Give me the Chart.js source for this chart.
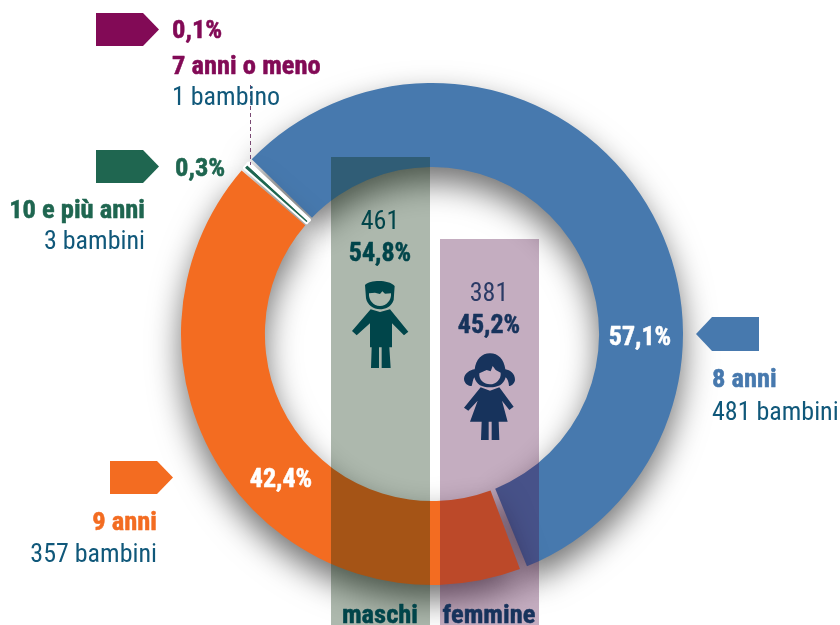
<!DOCTYPE html>
<html lang="it">
<head>
<meta charset="utf-8">
<script src="https://cdn.jsdelivr.net/npm/chart.js@4"></script>
<style>html,body{margin:0;padding:0;background:#fff}canvas{display:block}</style>
</head>
<body>
<canvas id="c" width="840" height="625"></canvas>
<script>
const ages = ['8 anni', '9 anni', '10 e più anni', '7 anni o meno'];
const counts = [481, 357, 3, 1];
const countLabels = ['481 bambini', '357 bambini', '3 bambini', '1 bambino'];
const shares = ['57,1%', '42,4%', '0,3%', '0,1%'];
const colors = ['#4779ae', '#f36c21', '#1f6650', '#820a56'];
const sexes = ['maschi', 'femmine'];
const sexCounts = ['461', '381'];
const sexShares = ['54,8%', '45,2%'];

const NARROW = '"Liberation Sans Narrow","Roboto Condensed",Roboto,sans-serif';
const INK = '#10587a', BOY = '#00454a', GIRL = '#17335c';

function txt(ctx, s, x, y, size, bold, color, align) {
  ctx.font = (bold ? 'bold ' : '') + size + 'px ' + NARROW;
  ctx.fillStyle = color;
  ctx.textAlign = align || 'left';
  ctx.textBaseline = 'alphabetic';
  ctx.fillText(s, x, y);
  if (bold) {
    ctx.strokeStyle = color;
    ctx.lineWidth = 0.5;
    ctx.lineJoin = 'round';
    ctx.strokeText(s, x, y);
  }
}
function poly(ctx, pts, color) {
  ctx.beginPath();
  pts.forEach((p, i) => i ? ctx.lineTo(p[0], p[1]) : ctx.moveTo(p[0], p[1]));
  ctx.closePath();
  ctx.fillStyle = color;
  ctx.fill();
}
const boyHead = 'M105 405C120 390 175 388 194 408L191 450C185 470 165 478 150 478C130 478 112 465 108 445ZM117 430L135 428L150 432L157 424L165 431L183 430C185 450 170 468 150 468C130 468 115 450 117 430Z';
const boyBody = 'M122 478L150 486L180 478L235 545L222 556L186 520L186 592L178 592L182 654L155 654L155 592L147 592L147 654L123 654L125 592L120 592L120 520L80 556L66 543Z';
const girlHead = 'M480 610C505 610 522 628 526 658C540 660 556 672 555 690C554 700 545 708 537 708C536 695 533 688 527 682C520 705 505 712 480 712C455 712 440 705 433 682C428 690 428 700 425 708C412 708 402 698 402 686C403 670 420 660 434 658C438 628 455 610 480 610ZM448 670L470 660L482 664L488 648L497 660L512 668C514 688 498 703 480 703C462 703 446 690 448 670Z';
const girlBody = 'M452 712L480 722L508 712L551 770L538 780L516 752L533 815L506 815L508 870L485 870L485 815L476 815L476 870L453 870L455 815L420 815L443 752L415 782L402 773Z';

const overlay = {
  id: 'overlay',
  beforeDatasetsDraw(chart) {
    const c = chart.ctx;
    // le due fette sottili non proiettano ombra
    chart.getDatasetMeta(0).data.slice(2).forEach(arc => {
      if (arc._noShadow) return;
      arc._noShadow = true;
      const d = arc.draw;
      arc.draw = function (ctx, area) {
        ctx.save();
        ctx.shadowColor = 'transparent';
        d.call(this, ctx, area);
        ctx.restore();
      };
    });
    c.save();
    c.shadowColor = 'rgba(0,0,0,0.56)';
    c.shadowBlur = 32;
    c.shadowOffsetX = 0;
    c.shadowOffsetY = 15;
  },
  afterDatasetsDraw(chart) {
    const c = chart.ctx;
    c.restore();
    c.save();
    // pannelli maschi / femmine
    c.fillStyle = 'rgba(0,33,0,0.32)';
    c.fillRect(331, 157, 99, 468);
    c.fillStyle = 'rgba(72,0,60,0.32)';
    c.fillRect(440, 239, 99, 386);
    // frecce
    poly(c, [[96,13],[143,13],[159,29.5],[143,46],[96,46]], colors[3]);
    poly(c, [[96,150],[143,150],[159,166.5],[143,183],[96,183]], colors[2]);
    poly(c, [[759,317],[712,317],[696,334],[712,351],[759,351]], colors[0]);
    poly(c, [[110,461],[157,461],[173,477.5],[157,494],[110,494]], colors[1]);
    // linea di richiamo
    c.beginPath();
    c.setLineDash([4, 3]);
    c.moveTo(250.5, 85); c.lineTo(250.5, 165);
    c.strokeStyle = '#7a4a74'; c.lineWidth = 1; c.stroke();
    c.setLineDash([]);
    // testi
    txt(c, shares[3], 172, 38, 26.5, true, colors[3]);
    txt(c, ages[3], 172, 73.5, 26.5, true, colors[3]);
    txt(c, countLabels[3], 172, 105, 26, false, INK);
    txt(c, shares[2], 175, 176, 26.5, true, colors[2]);
    txt(c, ages[2], 145, 218, 26.5, true, colors[2], 'right');
    txt(c, countLabels[2], 145, 249, 26, false, INK, 'right');
    txt(c, shares[0], 640, 345, 26, true, '#fff', 'center');
    txt(c, ages[0], 712, 387, 26.5, true, colors[0]);
    txt(c, countLabels[0], 712, 420, 26, false, INK);
    txt(c, shares[1], 281, 487, 26, true, '#fff', 'center');
    txt(c, ages[1], 157, 530, 26.5, true, colors[1], 'right');
    txt(c, countLabels[1], 157, 562, 26, false, INK, 'right');
    txt(c, sexCounts[0], 380, 229, 26, false, BOY, 'center');
    txt(c, sexShares[0], 380, 261, 26, true, BOY, 'center');
    txt(c, sexCounts[1], 489, 301, 26, false, '#2b3b66', 'center');
    txt(c, sexShares[1], 489, 333, 26, true, GIRL, 'center');
    txt(c, sexes[0], 380, 623, 26.5, true, BOY, 'center');
    txt(c, sexes[1], 489, 623, 26.5, true, GIRL, 'center');
    // pittogrammi
    c.translate(330, 150); c.scale(1/3, 1/3);
    c.fillStyle = BOY;
    c.fill(new Path2D(boyHead), 'evenodd');
    c.fill(new Path2D(boyBody));
    c.fillStyle = GIRL;
    c.fill(new Path2D(girlHead), 'evenodd');
    c.fill(new Path2D(girlBody));
    c.restore();
  }
};

new Chart(document.getElementById('c'), {
  type: 'doughnut',
  data: {
    labels: ages,
    datasets: [{
      data: counts,
      backgroundColor: colors,
      borderColor: '#fff',
      borderWidth: [0, 0, 2, 2.5],
      spacing: 4
    }]
  },
  options: {
    responsive: false,
    animation: false,
    rotation: -46.9,
    radius: 249,
    cutout: '66.3%',
    layout: { padding: { left: 24, top: 43 } },
    plugins: { legend: { display: false }, tooltip: { enabled: false } }
  },
  plugins: [overlay]
});
</script>
</body>
</html>
